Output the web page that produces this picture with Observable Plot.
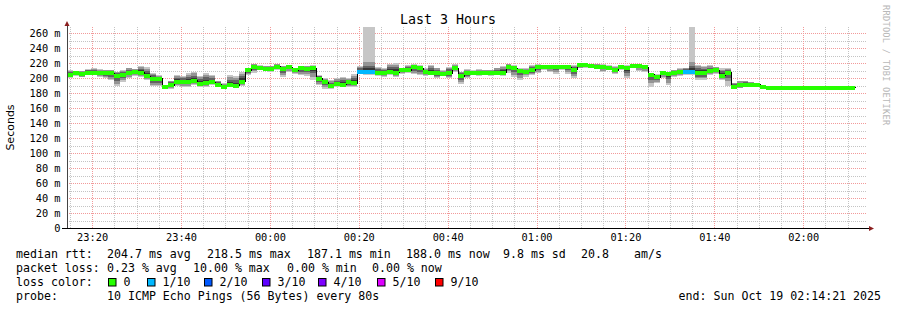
<!DOCTYPE html>
<html><head><meta charset="utf-8">
<script src="https://cdn.jsdelivr.net/npm/d3@7"></script>
<script src="https://cdn.jsdelivr.net/npm/@observablehq/plot@0.6"></script>
<style>
body{margin:0;background:#fff;}
#chart{position:relative;width:897px;height:310px;}
svg{overflow:visible}
</style></head><body><div id="chart"></div>
<script>
// ---- data ----
const startTime = "2025-10-18T23:14:21Z";
const endTime = "2025-10-19T02:14:21Z";
const stepSeconds = 80;
const medianRtt = [
205,207,206,208,208,207,207,207,203.5,205,
208,208.7,208,203,199.5,199.5,189,191,196,195,
195,197,193,194,195,192,189,191,190,196,
210.7,216,214,213,213,216,213,215,211,214,
213,214,200,195,190,193,191,195,194,209.3,
209.3,209.3,207.5,207,209,208,211,210.7,215,214,
209,207.6,207.6,206,207,214,203,207,207,207.6,
207.6,207.6,207.6,207.6,216,214,210,209,211,215,
216,216,215,215,215,212,217.5,217.5,216.6,216,
215,214,211,216,214,216.4,216.4,215,205,201.6,
208,206,207.6,209,209,209,207.6,207.6,209.8,211,
203.6,207.6,189,190.7,192,192,191.5,188.5,187.5,187.5,
187.5,188,188,188,188,188,188,188,188,188,
188,188,188];
const smokeHi = [
211,210,210,212,213,212,211,211,208.5,211,
214,212,216,215,207,204,191,196.5,204,203,
207,208.5,203,207,204,196.5,193,204,203,208.5,
213,218.7,217.3,216,216,218.7,216,217.3,214,216,
216,217.3,204,199.6,197,199.6,202,199.6,205,216,
268,268,215,213,218.7,219.6,214,217.3,218.7,217.3,
213,217.3,214,210.7,215,218.7,208.5,211.6,210.7,211.6,
210.7,210.7,214,216,218.7,217.3,213,213,217.3,218.7,
217.3,217.3,217.3,217.3,217.3,217.3,219.6,219.6,218.7,218.7,
218.7,217.3,216,217.3,217.3,217.3,217.3,216,207,205.3,
209.8,207,210.7,213,214,268,217.3,216,217.3,215,
213,213,193.8,196.5,196.5,195,193.8,189,188,188.5,
188.5,188.5,188.5,188.5,188.5,188.5,188.5,188.5,188.5,188.5,
188.5,188.5,188.5];
const smokeLo = [
200,203,201,204,204,202,200,197,189,195,
200,203,201,197,189,189,187.5,186,189,188.5,
188.5,190.7,188.5,187.5,190.7,187.5,187.5,187.5,187.5,189.4,
204,207,210.7,210.7,208.5,210.7,202,208.5,206,204,
203,197,190.7,186,186,187.6,189.4,187.6,188.5,205,
204,204,203,202,204,202,206,207,205,204,
203,204,199.6,203,199.6,208.5,192,199.6,204,203,
204,203,204,203,207,202,198,202,204,207,
210.7,208.5,206,210.7,206,199.6,213,214,213,211.6,
208.5,210.7,206,210.7,199.6,213,210,208.5,188.5,193,
199.6,190.7,202,203,204,204,197.3,197.3,204,206,
197.3,189.4,185,186.2,187.6,187.6,187.6,185,185.5,184,
183.5,183.5,183.5,184,187,184.5,187,187,187,184.5,
187,187,184.5];
const lossCount = [
0,0,0,0,0,0,0,0,0,0,
0,0,0,0,0,0,0,0,0,0,
0,0,0,0,0,0,0,0,0,0,
0,0,0,0,0,0,0,0,0,0,
0,0,0,0,0,0,0,0,0,1,
1,1,0,0,0,0,0,0,0,0,
0,0,0,0,0,0,0,0,0,0,
0,0,0,0,0,0,0,0,0,0,
0,0,0,0,0,0,0,0,0,0,
0,0,0,0,0,0,0,0,0,0,
0,0,0,0,1,1,0,0,0,0,
0,0,0,0,0,0,0,0,0,0,
0,0,0,0,0,0,0,0,0,0,
0,0,0];
const xTickTimes = ["2025-10-18T23:20:00Z","2025-10-18T23:40:00Z","2025-10-19T00:00:00Z","2025-10-19T00:20:00Z","2025-10-19T00:40:00Z","2025-10-19T01:00:00Z","2025-10-19T01:20:00Z","2025-10-19T01:40:00Z","2025-10-19T02:00:00Z"];
const xTickLabels = ["23:20","23:40","00:00","00:20","00:40","01:00","01:20","01:40","02:00"];
const yTicks = [0,20,40,60,80,100,120,140,160,180,200,220,240,260];
const yTickLabels = ["0","20 m","40 m","60 m","80 m","100 m","120 m","140 m","160 m","180 m","200 m","220 m","240 m","260 m"];
const lossLegendLabels = ["0","1/10","2/10","3/10","4/10","5/10","9/10"];
const lossColors = ["#26ff00","#00b8ff","#0059ff","#5e00ff","#7e00ff","#dd00ff","#ff0000"];
const titleText = "Last 3 Hours";
const statsRtt = ["median rtt:","204.7 ms avg","218.5 ms max","187.1 ms min","188.0 ms now","9.8 ms sd","20.8","am/s"];
const statsLoss = ["packet loss:","0.23 % avg","10.00 % max","0.00 % min","0.00 % now"];
const probeText = ["probe:","10 ICMP Echo Pings (56 Bytes) every 80s"];
const endText = "end: Sun Oct 19 02:14:21 2025";

// ---- build ----
const W = 897, H = 310, mL = 67, mR = 30, mT = 27, mB = 82;
const tStart = Date.parse(startTime);
const steps = medianRtt.map((v, i) => ({
  t0: new Date(tStart + i * stepSeconds * 1000),
  t1: new Date(tStart + (i + 1) * stepSeconds * 1000),
  med: v, hi: smokeHi[i], lo: smokeLo[i], loss: lossCount[i]
}));
const layer = (frac, cap) => steps.map(d => ({
  ...d,
  y2: d.med + Math.min((d.hi - d.med) * frac, cap),
  y1: d.med - Math.min((d.med - d.lo) * frac, cap)
}));
const linePts = steps.flatMap(d => [{t: d.t0, v: d.med}, {t: d.t1, v: d.med}]);
const xTicks = xTickTimes.map(s => new Date(s));
const minorX = d3.utcMinute.every(5).range(new Date(startTime), new Date(endTime));
const minorY = d3.range(10, 268, 20);
const mono = "DejaVu Sans Mono";

const chart = Plot.plot({
  width: W, height: H,
  marginLeft: mL, marginRight: mR, marginTop: mT, marginBottom: mB,
  style: {background: "#fff", color: "#000", fontFamily: mono, fontSize: "10.3px"},
  x: {type: "utc", domain: [new Date(startTime), new Date(endTime)], axis: null},
  y: {domain: [0, 268], axis: null},
  marks: [
    Plot.ruleY(minorY, {stroke: "#c4c4c4", strokeDasharray: "1,1", shapeRendering: "crispEdges"}),
    Plot.ruleX(minorX, {stroke: "#c4c4c4", strokeDasharray: "1,1", shapeRendering: "crispEdges"}),
    Plot.ruleY(yTicks.filter(v => v > 0), {stroke: "#f29a9a", strokeDasharray: "1,1", shapeRendering: "crispEdges"}),
    Plot.ruleX(xTicks, {stroke: "#f29a9a", strokeDasharray: "1,1", shapeRendering: "crispEdges"}),
    Plot.rect(layer(1, 999), {x1: "t0", x2: "t1", y1: "y1", y2: "y2", fill: "#c6c6c6", shapeRendering: "crispEdges"}),
    Plot.rect(layer(0.8, 12), {x1: "t0", x2: "t1", y1: "y1", y2: "y2", fill: "#949494", shapeRendering: "crispEdges"}),
    Plot.rect(layer(0.55, 7), {x1: "t0", x2: "t1", y1: "y1", y2: "y2", fill: "#626262", shapeRendering: "crispEdges"}),
    Plot.rect(layer(0.3, 4), {x1: "t0", x2: "t1", y1: "y1", y2: "y2", fill: "#363636", shapeRendering: "crispEdges"}),
    Plot.line(linePts, {x: "t", y: "v", stroke: "#000", strokeWidth: 1, shapeRendering: "crispEdges"}),
    Plot.ruleY(steps, {x1: "t0", x2: "t1", y: "med", stroke: d => lossColors[d.loss], strokeWidth: 4, shapeRendering: "crispEdges"}),
    Plot.axisY(yTicks, {tickSize: 0, tickPadding: 7, tickFormat: d => yTickLabels[yTicks.indexOf(d)], fontSize: 10.3, fontFamily: mono}),
    Plot.axisX(xTicks, {tickSize: 0, tickPadding: 5, tickFormat: d => xTickLabels[xTicks.findIndex(t => +t === +d)], fontSize: 10.3, fontFamily: mono})
  ]
});
document.getElementById("chart").appendChild(chart);

// ---- decorations ----
const svg = d3.select(chart);
const x0p = mL, x1p = W - mR, yb = H - mB;
svg.append("line").attr("x1", x0p).attr("x2", x0p).attr("y1", yb + 0.5).attr("y2", mT - 4).attr("stroke", "#444").attr("shape-rendering", "crispEdges");
svg.append("line").attr("x1", x0p - 5).attr("x2", x1p + 3).attr("y1", yb + 0.5).attr("y2", yb + 0.5).attr("stroke", "#000").attr("shape-rendering", "crispEdges");
svg.append("path").attr("d", `M${x0p - 2.5},${mT - 1}L${x0p + 2.5},${mT - 1}L${x0p},${mT - 6}Z`).attr("fill", "#8b1f1f");
svg.append("path").attr("d", `M${x1p + 2},${yb - 2}L${x1p + 2},${yb + 3}L${x1p + 7},${yb + 0.5}Z`).attr("fill", "#8b1f1f");

const txt = (x, y, s, opts = {}) => svg.append("text").attr("x", x).attr("y", y)
  .attr("font-family", opts.family || mono).attr("font-size", opts.size || 11.6)
  .attr("fill", opts.fill || "#000").attr("text-anchor", opts.anchor || "start")
  .attr("xml:space", "preserve").style("white-space", "pre").text(s);

txt(448, 24, titleText, {size: 13.3, anchor: "middle"});
svg.append("text").attr("transform", `translate(14,${(mT + yb) / 2}) rotate(-90)`)
  .attr("text-anchor", "middle").attr("font-family", "DejaVu Sans").attr("font-size", 11).text("Seconds");
svg.append("text").attr("transform", `translate(883,5) rotate(90)`)
  .attr("text-anchor", "start").attr("font-family", mono).attr("font-size", 8.6)
  .attr("letter-spacing", 0.3)
  .attr("fill", "#b8b8b8").text("RRDTOOL / TOBI OETIKER");

const rttX = [16, 107, 207, 307, 406, 503, 581, 634];
statsRtt.forEach((s, i) => txt(rttX[i], 258, s));
const lossX = [16, 107, 193, 287, 372];
statsLoss.forEach((s, i) => txt(lossX[i], 272, s));
txt(16, 286, "loss color:");
const boxX = [108, 147, 204, 262, 318, 377, 435];
lossLegendLabels.forEach((s, i) => {
  svg.append("rect").attr("x", boxX[i] + 0.5).attr("y", 278.5).attr("width", 7.5).attr("height", 7.5)
    .attr("fill", lossColors[i]).attr("stroke", "#000").attr("stroke-width", 1);
  txt(boxX[i] + 15.5, 286, s);
});
txt(16, 300, probeText[0]);
txt(107, 300, probeText[1]);
txt(881, 300, endText, {anchor: "end"});
</script></body></html>
